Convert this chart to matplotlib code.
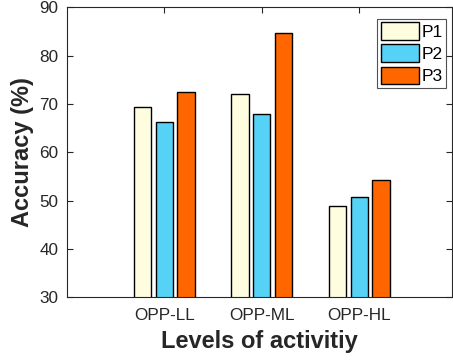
import numpy as np
import matplotlib.pyplot as plt

plt.rcParams['font.family'] = ['Liberation Sans', 'DejaVu Sans']

categories = ['OPP-LL', 'OPP-ML', 'OPP-HL']
series = ['P1', 'P2', 'P3']
p1 = [69.3, 72.0, 48.8]
p2 = [66.2, 67.9, 50.8]
p3 = [72.4, 84.6, 54.2]
colors = ['#FFFDE0', '#55D2F5', '#FF6600']

fig = plt.figure(figsize=(4.53, 3.6), dpi=100)
ax = fig.add_axes([0.147, 0.174, 0.851, 0.806])

x = np.arange(1, len(categories) + 1)
w = 0.178
step = 0.222
for i, (vals, name) in enumerate(zip([p1, p2, p3], series)):
    ax.bar(x + (i - 1) * step, vals, width=w, bottom=0, color=colors[i],
           edgecolor='black', linewidth=1.0, label=name, zorder=2)

ax.set_ylim(30, 90)
ax.set_xlim(0, 3.95)
ax.set_yticks(range(30, 91, 10))
ax.set_xticks(x)
ax.set_xticklabels(categories)
ax.tick_params(direction='in', top=True, right=True, labelsize=12.3,
               colors='#262626', length=4, width=0.8)
ax.tick_params(axis='x', pad=8)
ax.tick_params(axis='y', pad=6)
for s in ax.spines.values():
    s.set_color('#262626')
    s.set_linewidth(0.8)

ax.set_xlabel('Levels of activitiy', fontsize=17, fontweight='bold',
              color='#262626', labelpad=5)
ax.set_ylabel('Accuracy (%)', fontsize=17, fontweight='bold',
              color='#262626', labelpad=4)

leg = ax.legend(loc='upper right', fontsize=12.5, fancybox=False, edgecolor='#262626',
                handlelength=2.2, handleheight=1.2, handletextpad=0.15,
                labelspacing=0.25, borderpad=0.2, borderaxespad=0.0,
                bbox_to_anchor=(0.985, 0.96))
leg.get_frame().set_linewidth(0.8)

fig.savefig('out.png', dpi=100)
